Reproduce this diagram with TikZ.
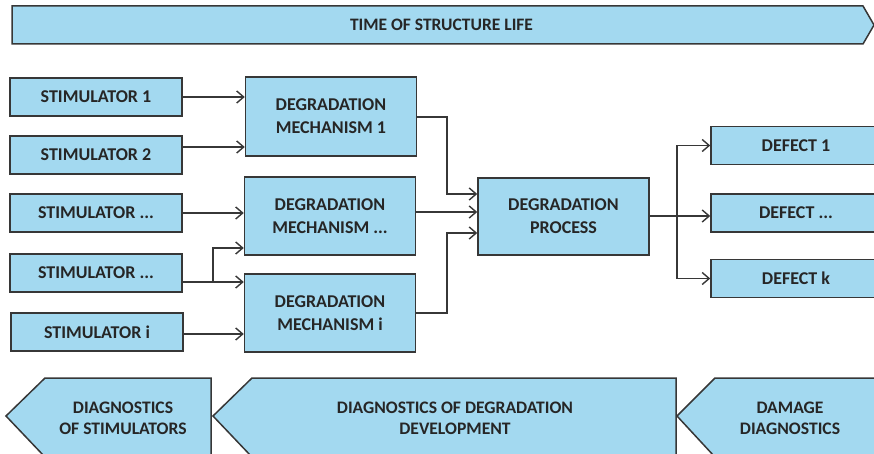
\documentclass[tikz,border=0pt]{standalone}
\usepackage{fontspec}
\setmainfont{Carlito}
\usetikzlibrary{arrows.meta}
\definecolor{boxfill}{RGB}{163,217,240}
\definecolor{edge}{RGB}{55,55,55}
\definecolor{ink}{RGB}{38,38,38}
\begin{document}
\begin{tikzpicture}[x=1pt,y=-1pt,
 box/.style={draw=edge, fill=boxfill, line width=1.5pt, font=\bfseries\fontsize{18}{23}\selectfont, text=ink, align=center, inner sep=0pt},
 stim/.style={box, minimum width=172pt, minimum height=38pt},
 mech/.style={box, minimum width=171pt, minimum height=78pt},
 defect/.style={box, minimum width=170pt, minimum height=38pt},
 conn/.style={draw=edge, line width=1.4pt, -{Straight Barb[length=7pt,width=12pt,line width=1.4pt]}},
 band/.style={draw=edge, fill=boxfill, line width=1.5pt},
 bandtext/.style={font=\bfseries\fontsize{17.6}{20.5}\selectfont, text=ink, align=center}
]
\useasboundingbox (0,0) rectangle (874,454);

% top band
\draw[band] (12,6) -- (863,6) -- (874,25) -- (863,44) -- (12,44) -- cycle;
\node[bandtext, font=\bfseries\fontsize{17.5}{20.5}\selectfont] (time) at (441.5,25) {TIME OF STRUCTURE LIFE};

% stimulators
\node[stim] (s1) at (96,97) {STIMULATOR 1};
\node[stim] (s2) at (96,155) {STIMULATOR 2};
\node[stim] (s3) at (96,213) {STIMULATOR ...};
\node[stim] (s4) at (96,273) {STIMULATOR ...};
\node[stim] (si) at (97,332) {STIMULATOR i};

% mechanisms
\node[mech, minimum height=79pt] (dm1) at (331,116.5) {DEGRADATION\\MECHANISM 1};
\node[mech] (dm2) at (330,216) {DEGRADATION\\MECHANISM ...};
\node[mech] (dmi) at (330,313) {DEGRADATION\\MECHANISM i};

% process
\node[mech, minimum height=77pt] (dp) at (563.5,216.5) {DEGRADATION\\PROCESS};

% defects
\node[defect] (d1) at (796,145.5) {DEFECT 1};
\node[defect] (d2) at (796,213) {DEFECT ...};
\node[defect] (dk) at (796,278.5) {DEFECT k};

% connectors stimulators -> mechanisms
\draw[conn] (s1.east) -- (dm1.west |- s1.east);
\draw[conn] (s2.east |- 0,147) -- (dm1.west |- 0,147);
\draw[conn] (s3.east) -- (dm2.west |- s3.east);
\draw[conn] (s4.east |- 0,282) -- (dmi.west |- 0,282);
\coordinate (fork) at (213,282);
\draw[conn] (fork) |- (dm2.west |- 0,248);
\draw[conn] (si.east |- 0,334) -- (dmi.west |- 0,334);

% mechanisms -> process
\coordinate (j1) at (447,194);
\coordinate (j3) at (447,233);
\draw[conn] (dm1.east |- 0,117) -| (j1) -- (dp.west |- j1);
\draw[conn] (dm2.east |- 0,212) -- (dp.west |- 0,212);
\draw[conn] (dmi.east) -| (j3) -- (dp.west |- j3);

% process -> defects
\coordinate (split) at (677,216);
\draw[conn] (dp.east |- split) -- (d2.west |- split);
\draw[conn] (split) |- (d1.west);
\draw[conn] (split) |- (dk.west);

% bottom bands
\draw[band] (6,416) -- (45,378) -- (211,378) -- (211,456) -- (44,456) -- cycle;
\draw[band] (213,416) -- (252,378) -- (676,378) -- (676,456) -- (251,456) -- cycle;
\draw[band] (677,416) -- (715,378) -- (890,378) -- (890,456) -- (714,456) -- cycle;
\node[bandtext] (diagstim) at (123,418.5) {DIAGNOSTICS\\OF STIMULATORS};
\node[bandtext] (diagdeg) at (455,418.5) {DIAGNOSTICS OF DEGRADATION\\DEVELOPMENT};
\node[bandtext] (diagdam) at (790,418.5) {DAMAGE\\DIAGNOSTICS};
\end{tikzpicture}
\end{document}
